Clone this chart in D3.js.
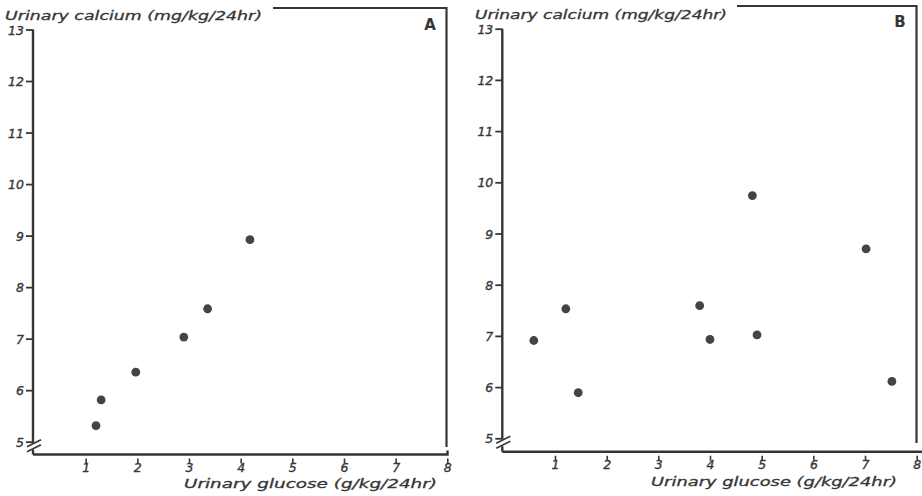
<!DOCTYPE html>
<html><head><meta charset="utf-8">
<script src="https://cdn.jsdelivr.net/npm/d3@7"></script>
<style>
body{margin:0;background:#fff;}
svg{display:block;}
</style></head>
<body>
<svg id="c" width="922" height="496"></svg>
<script>
// Data
const xTicks = [1,2,3,4,5,6,7,8];
const yTicks = [5,6,7,8,9,10,11,12,13];
const yTitle = "Urinary calcium  (mg/kg/24hr)";
const xTitle = "Urinary glucose (g/kg/24hr)";
const panelLabels = ["A","B"];
const glucoseA = [4.18, 3.36, 2.90, 1.97, 1.30, 1.20];
const calciumA = [8.92, 7.58, 7.03, 6.35, 5.81, 5.31];
const glucoseB = [4.82, 7.02, 1.21, 3.80, 0.59, 4.00, 4.91, 1.45, 7.52];
const calciumB = [9.74, 8.70, 7.53, 7.59, 6.91, 6.93, 7.02, 5.89, 6.11];

const ink = "#363636";
const svg = d3.select("#c");

const panels = [
  {label:panelLabels[0], gx:glucoseA, cy:calciumA,
   x0:34, x1:447.3, y0:441.7, y1:29.5, base:454.5, right:446.5, rightBottom:447, top:8, topStart:273,
   titleX:5, titleY:20, titleW:257, xtX:184, xtW:253, xtY:488, labX:430, labY:30, axisEnd:447.5},
  {label:panelLabels[1], gx:glucoseB, cy:calciumB,
   x0:503.3, x1:916.7, y0:438.3, y1:28.7, base:451.7, right:916.5, rightBottom:443, top:6, topStart:737,
   titleX:475, titleY:19, titleW:252, xtX:651, xtW:246, xtY:486, labX:900, labY:27, axisEnd:922}
];

panels.forEach(p => {
  const x = d3.scaleLinear().domain([0,8]).range([p.x0, p.x1]);
  const y = d3.scaleLinear().domain([5,13]).range([p.y0, p.y1]);
  const g = svg.append("g");
  const ax = x(0) - 1;

  // frame: top and right border
  g.append("path")
    .attr("d", `M${p.topStart},${p.top}H${p.right}V${p.rightBottom}`)
    .attr("fill","none").attr("stroke",ink).attr("stroke-width",2.2);

  // x axis line
  g.append("path")
    .attr("d", `M${ax},${p.base}H${p.axisEnd}` + (p.label==="A" ? `V${p.base-4}` : ""))
    .attr("fill","none").attr("stroke",ink).attr("stroke-width",2.4);

  // y axis line with break
  g.append("path")
    .attr("d", `M${ax},${y(13)}V${y(5)+1} M${ax},${y(5)+8}V${p.base}`)
    .attr("fill","none").attr("stroke",ink).attr("stroke-width",2.4);
  // break marks
  const bm = y(5) + 4;
  [-2.5, 2.5].forEach(d => {
    g.append("line")
      .attr("x1", ax-6).attr("y1", bm+d+3.5)
      .attr("x2", ax+8).attr("y2", bm+d-3.5)
      .attr("stroke",ink).attr("stroke-width",1.6);
  });

  // y axis ticks
  const yAxis = d3.axisLeft(y).tickValues(yTicks).tickSize(7).tickPadding(2).tickFormat(d3.format("d"));
  const ya = g.append("g").attr("transform", `translate(${ax},0)`).call(yAxis);
  ya.select(".domain").remove();
  ya.selectAll(".tick line").attr("stroke",ink).attr("stroke-width",1.8);
  ya.selectAll(".tick text").attr("dy","0.36em");

  // x axis ticks (separated from axis line)
  const xAxis = d3.axisBottom(x).tickValues(xTicks).tickSize(5).tickPadding(1).tickFormat(d3.format("d"));
  const xa = g.append("g").attr("transform", `translate(0,${p.base+4})`).call(xAxis);
  xa.select(".domain").remove();
  xa.selectAll(".tick line").attr("stroke",ink).attr("stroke-width",1.6);
  xa.selectAll(".tick text").attr("dy","0.62em");

  [ya, xa].forEach(a => a.selectAll(".tick text")
    .attr("fill", ink)
    .style("font-family","'DejaVu Sans',sans-serif").style("font-style","italic")
    .style("font-size","12.5px").style("stroke",ink).style("stroke-width","0.35px"));

  // titles
  g.append("text").attr("x",p.titleX).attr("y",p.titleY)
    .attr("textLength",p.titleW).attr("lengthAdjust","spacingAndGlyphs")
    .style("font-family","'DejaVu Sans',sans-serif").style("font-style","italic")
    .style("font-size","12.5px").style("stroke",ink).style("stroke-width","0.3px")
    .attr("fill",ink).text(yTitle);
  g.append("text").attr("x",p.xtX).attr("y",p.xtY)
    .attr("textLength",p.xtW).attr("lengthAdjust","spacingAndGlyphs")
    .style("font-family","'DejaVu Sans',sans-serif").style("font-style","italic")
    .style("font-size","12.5px").style("stroke",ink).style("stroke-width","0.3px")
    .attr("fill",ink).text(xTitle);
  g.append("text").attr("x",p.labX).attr("y",p.labY)
    .attr("text-anchor","middle")
    .style("font-family","'DejaVu Sans',sans-serif").style("font-weight","bold")
    .style("font-size","15px").attr("fill",ink).text(p.label);

  // points
  g.selectAll("circle.pt").data(p.gx.map((v,i)=>({gx:v, cy:p.cy[i]})))
    .join("circle").attr("class","pt")
    .attr("cx", d => x(d.gx)).attr("cy", d => y(d.cy))
    .attr("r", 4.4).attr("fill","#444");
});
</script>
</body></html>
